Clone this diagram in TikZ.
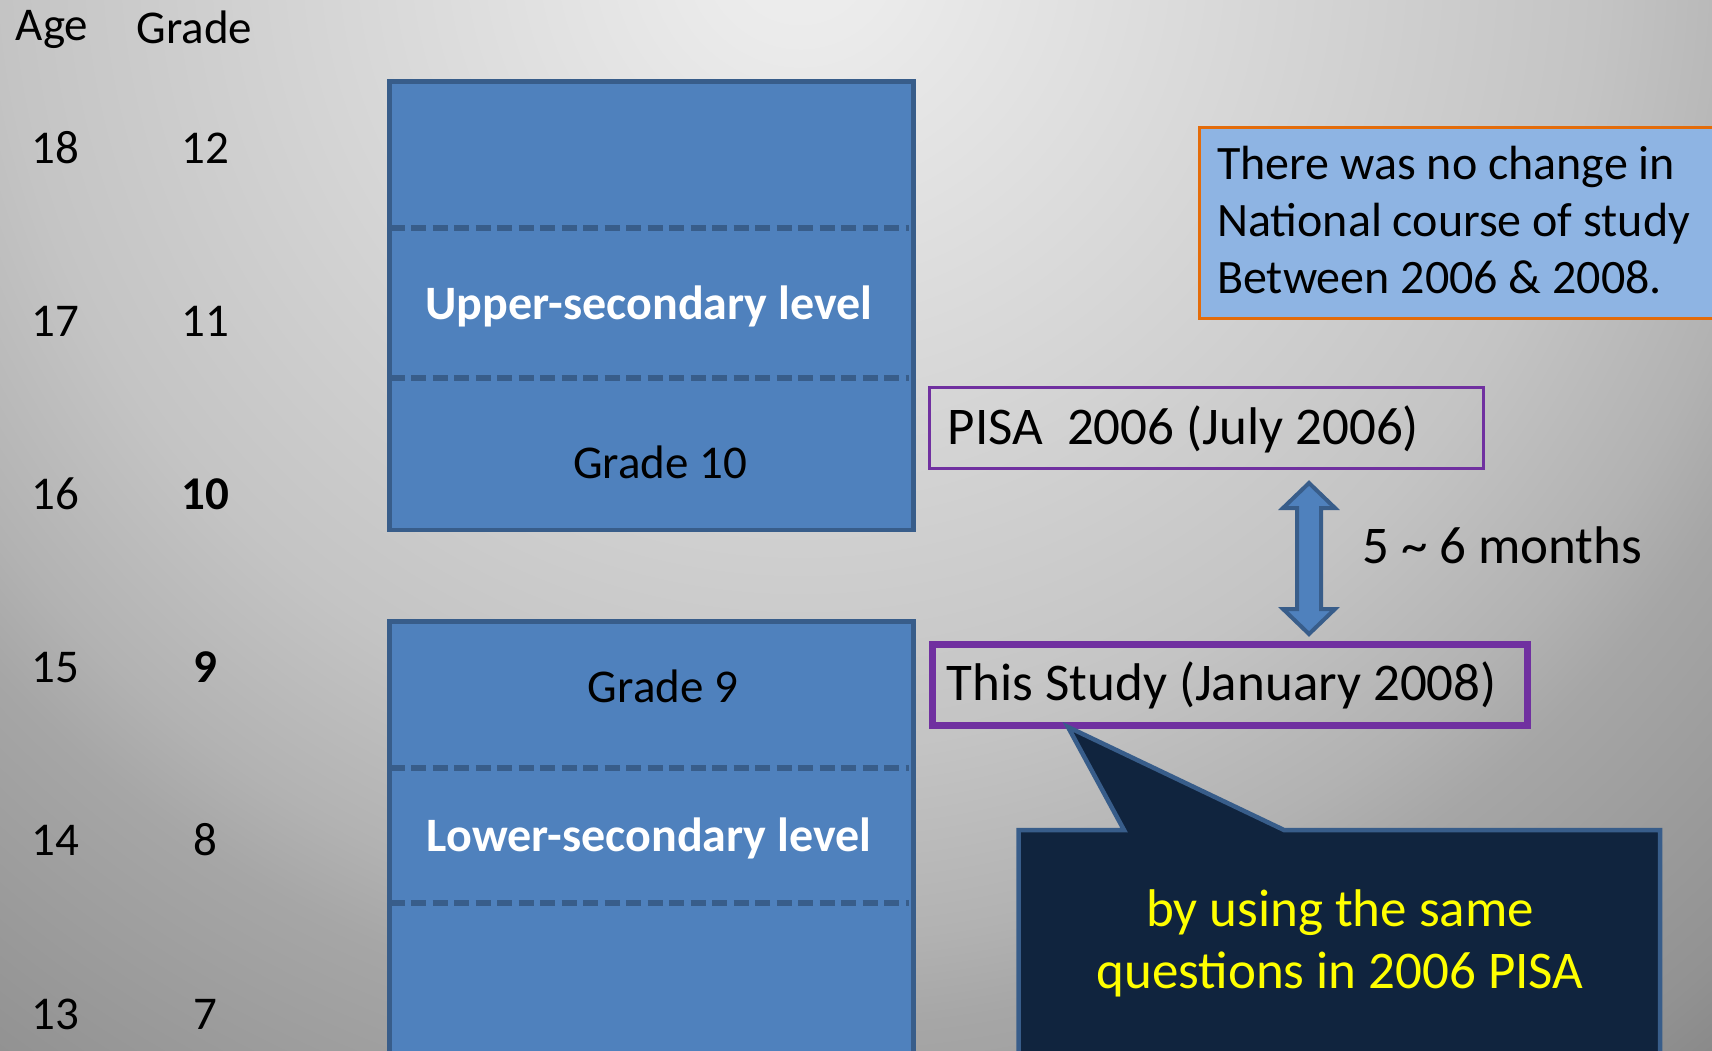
\documentclass[tikz,border=0pt]{standalone}
\usepackage{fontspec}
\setmainfont{Carlito}
\usetikzlibrary{calc}

\definecolor{bgA}{HTML}{EEEEEE}
\definecolor{bgA2}{HTML}{EBEBEB}
\definecolor{bgB}{HTML}{C4C4C4}
\definecolor{bgC}{HTML}{B2B2B2}
\definecolor{bgD}{HTML}{A6A6A6}
\definecolor{bgE}{HTML}{929292}
\definecolor{bgF}{HTML}{8A8A8A}
\definecolor{bgG}{HTML}{878787}
\definecolor{boxblue}{HTML}{4F81BD}
\definecolor{boxline}{HTML}{385D8A}
\definecolor{noteblue}{HTML}{8EB4E3}
\definecolor{noteline}{HTML}{E46C0A}
\definecolor{studyline}{HTML}{7030A0}
\definecolor{navy}{HTML}{10243E}
\definecolor{hiyellow}{HTML}{FFFF00}

% grey slide background, lightest at the top centre
\pgfdeclareradialshading{slidebg}{\pgfpoint{0bp}{0bp}}{%
  color(0bp)=(bgA); color(1.5bp)=(bgA2); color(13.3bp)=(bgB);
  color(16.5bp)=(bgC); color(18bp)=(bgD); color(22.7bp)=(bgE);
  color(23.8bp)=(bgF); color(25bp)=(bgG); color(50bp)=(bgG)}

\newcommand\szA{\fontsize{47}{57}\selectfont}
\newcommand\szL{\fontsize{48}{58}\selectfont}
\newcommand\szN{\fontsize{48}{57}\selectfont}
\newcommand\szB{\fontsize{53}{64}\selectfont}
\newcommand\szC{\fontsize{53}{62}\selectfont}

\begin{document}
\begin{tikzpicture}[x=1pt,y=-1pt,
  numlabel/.style={anchor=base, font=\szA, inner sep=0},
  levelbox/.style={fill=boxblue, draw=boxline, line width=4.5pt, inner sep=0},
  levelsep/.style={draw=boxline, line width=6pt, dash pattern=on 15pt off 6.5pt},
  levelname/.style={anchor=base, font=\szL\bfseries, text=white, inner sep=0},
  gradename/.style={anchor=base, font=\szA, inner sep=0},
  notebox/.style={fill=noteblue, draw=noteline, line width=3pt, inner sep=0},
  pisabox/.style={draw=studyline, line width=3pt, inner sep=0},
  studybox/.style={draw=studyline, line width=7pt, inner sep=0},
  boxtext/.style={anchor=base west, font=\szB, inner sep=0},
  twoway/.style={fill=boxblue, draw=boxline, line width=4pt},
  callout/.style={fill=navy, draw=boxline, line width=4.5pt}]

\useasboundingbox (0,0) rectangle (1712,1050);
\clip (0,0) rectangle (1712,1050);

\shade[shading=slidebg] (-700,-1550) rectangle (2300,1450);

% column headings and the age / grade scale
\node[numlabel] (agehead) at (52,40) {Age};
\node[numlabel] (gradehead) at (194.5,43.3) {Grade};

\node[numlabel] (age18) at (55.5,163) {18};
\node[numlabel] (gr12) at (205.5,163) {12};
\node[numlabel] (age17) at (55.5,336.2) {17};
\node[numlabel] (gr11) at (205.5,336.2) {11};
\node[numlabel] (age16) at (55.5,509.4) {16};
\node[numlabel, font=\szA\bfseries] (gr10) at (205.5,509.4) {10};
\node[numlabel] (age15) at (55.5,682.6) {15};
\node[numlabel, font=\szA\bfseries] (gr9) at (205.5,682.6) {9};
\node[numlabel] (age14) at (55.5,855.8) {14};
\node[numlabel] (gr8) at (205.5,855.8) {8};
\node[numlabel] (age13) at (55.5,1029) {13};
\node[numlabel] (gr7) at (205.5,1029) {7};

% upper-secondary block
\node[levelbox, anchor=north west, minimum width=524.1, minimum height=448.4]
  (upperbox) at (387.3,79.3) {};
\draw[levelsep] (389.5,228) -- (909.2,228);
\draw[levelsep] (389.5,378) -- (909.2,378);
\node[levelname] (upper) at (649,319.3) {Upper-secondary level};
\node[gradename] (g10) at (660,478.3) {Grade 10};

% lower-secondary block
\node[levelbox, anchor=north west, minimum width=524.1, minimum height=460]
  (lowerbox) at (387.3,619.3) {};
\draw[levelsep] (389.5,768) -- (909.2,768);
\draw[levelsep] (389.5,903) -- (909.2,903);
\node[gradename] (g9) at (663,702.7) {Grade 9};
\node[levelname] (lower) at (649,851.7) {Lower-secondary level};

% note on the course of study
\node[notebox, anchor=north west, minimum width=530, minimum height=191]
  (note) at (1197.5,125.5) {};
\node[anchor=base west, font=\szN, inner sep=0] (notetext) at (1217,179.3)
  {\begin{tabular}[t]{@{}l@{}}There was no change in\\National course of study\\Between 2006 \& 2008.\end{tabular}};

% the two surveys
\node[pisabox, anchor=north west, minimum width=554, minimum height=81]
  (pisa) at (927.5,385.5) {};
\node[boxtext] (pisatext) at (947.6,444) {PISA\ \ 2006 (July 2006)};
\node[studybox, anchor=north west, minimum width=595.5, minimum height=80.5]
  (study) at (928.5,641) {};
\node[boxtext] (studytext) at (946.6,700.5) {This Study (January 2008)};

% time gap between them
\coordinate (dtop) at (1309,483);
\coordinate (dbot) at (1309,634);
\draw[twoway] (dtop) -- (1335,508) -- (1321,508) -- (1321,609) -- (1335,609)
  -- (dbot) -- (1283,609) -- (1297,609) -- (1297,508) -- (1283,508) -- cycle;
\node[anchor=base west, font=\szB, inner sep=0] (gap) at (1362,563.5)
  {5 \textasciitilde{} 6 months};

% speech bubble pointing at this study
\coordinate (tip) at (1068,727);
\draw[callout] (1018.5,1070) -- (1018.5,830) -- (1124,830) -- (tip)
  -- (1284,830) -- (1660,830) -- (1660,1070) -- cycle;
\node[anchor=base, font=\szC, text=hiyellow, inner sep=0] (calltext) at (1340,926.5)
  {\begin{tabular}[t]{@{}c@{}}by using the same\\questions in 2006 PISA\end{tabular}};

\end{tikzpicture}
\end{document}
